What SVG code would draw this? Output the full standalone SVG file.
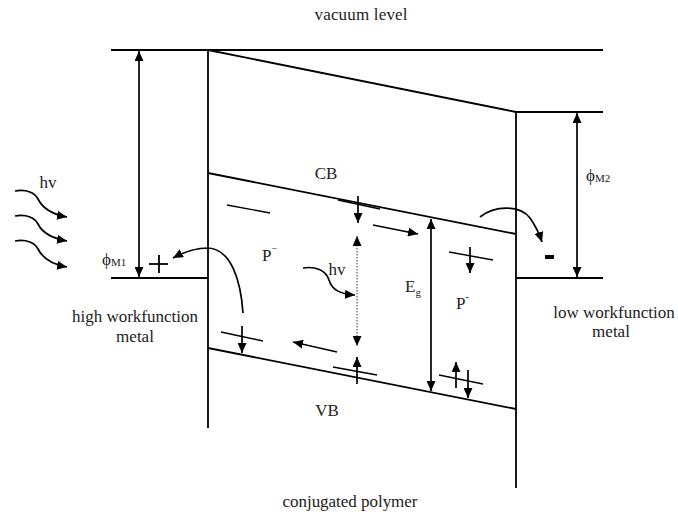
<svg xmlns="http://www.w3.org/2000/svg" width="678" height="519" viewBox="0 0 678 519">
<style>
.ln{stroke:#000;stroke-width:1.8;fill:none}
.th{stroke:#000;stroke-width:1.4;fill:none}
.ar{stroke:#000;stroke-width:1.7;fill:none;marker-end:url(#ah)}
.da{stroke:#000;stroke-width:1.7;fill:none;marker-start:url(#ah);marker-end:url(#ah)}
.dt{stroke:#666;stroke-width:1.3;fill:none;stroke-dasharray:1.5 1.5;marker-start:url(#ah);marker-end:url(#ah)}
.t{font-family:"Liberation Serif","Times New Roman",serif;font-size:17px;fill:#222}
.s{font-family:"Liberation Serif","Times New Roman",serif;font-size:11px;fill:#222}
</style>
<defs>
<marker id="ah" markerUnits="userSpaceOnUse" markerWidth="11" markerHeight="9" refX="10" refY="4.5" orient="auto-start-reverse" viewBox="0 0 11 9">
<path d="M0,0 L10,4.5 L0,9 z" fill="#000"/>
</marker>
</defs>
<rect width="678" height="519" fill="#fff"/>

<g id="labels">
<text class="t" x="361" y="20" text-anchor="middle" textLength="93" lengthAdjust="spacing">vacuum level</text>
<text class="t" x="350" y="507" text-anchor="middle" textLength="135" lengthAdjust="spacing">conjugated polymer</text>
<text class="t" x="135" y="322" text-anchor="middle">high workfunction</text>
<text class="t" x="135" y="342" text-anchor="middle">metal</text>
<text class="t" x="614" y="318" text-anchor="middle">low workfunction</text>
<text class="t" x="611" y="337" text-anchor="middle">metal</text>
<text class="t" x="326" y="179" text-anchor="middle">CB</text>
<text class="t" x="327" y="416" text-anchor="middle">VB</text>
</g>

<g id="band-structure">
<line class="ln" x1="111" y1="50" x2="603" y2="50"/>
<line class="ln" x1="208" y1="50" x2="208" y2="428"/>
<line class="ln" x1="516" y1="112" x2="516" y2="488"/>
<line class="ln" x1="208" y1="50" x2="516" y2="112"/>
<line class="ln" x1="516" y1="112" x2="603" y2="112"/>
<line class="ln" x1="111" y1="278" x2="208" y2="278"/>
<line class="ln" x1="516" y1="278" x2="603" y2="278"/>
<line class="ln" x1="208" y1="173" x2="516" y2="234"/>
<line class="ln" x1="208" y1="348" x2="516" y2="409"/>
</g>

<g id="work-functions">
<line class="da" x1="139" y1="51" x2="139" y2="277"/>
<line class="da" x1="577" y1="113" x2="577" y2="277"/>
<text class="t" x="102" y="265" font-size="15">ϕ<tspan class="s" dy="1">M1</tspan></text>
<text class="t" x="586" y="181" font-size="15">ϕ<tspan class="s" dy="1">M2</tspan></text>
</g>

<g id="photons-left">
<text class="t" x="48" y="188" text-anchor="middle">hv</text>
<path class="ar" d="M15,191 C27,189 35,193 38,199 C42,207 50,214 67,217"/>
<path class="ar" d="M15,216 C27,214 35,218 38,224 C42,232 50,238 67,241"/>
<path class="ar" d="M15,241 C27,239 35,243 38,249 C42,257 50,264 67,267"/>
</g>

<g id="charges">
<line class="ln" x1="149" y1="264" x2="168" y2="264" stroke-width="2"/>
<line class="ln" x1="159" y1="255" x2="159" y2="273" stroke-width="2"/>
<rect x="545" y="255" width="9" height="4" fill="#000"/>
<path class="ar" d="M243,313 C241,283 232,249 208,248 C196,248 184,252 173,258"/>
<path class="ar" d="M480,217 C495,205 520,205 530,218 C535,225 539,233 542,242"/>
</g>

<g id="polarons">
<text class="t" x="262" y="261" font-size="16">P<tspan font-size="10" dy="-9">−</tspan></text>
<text class="t" x="456" y="309" font-size="16">P<tspan font-size="10" dy="-9">-</tspan></text>
<line class="th" x1="227" y1="205" x2="270" y2="213"/>
<line class="th" x1="338" y1="200" x2="380" y2="209"/>
<line class="ar" x1="358" y1="196" x2="358" y2="223"/>
<line class="ar" x1="373" y1="225" x2="418" y2="234"/>
<line class="th" x1="221" y1="332" x2="263" y2="341"/>
<line class="ar" x1="242" y1="326" x2="242" y2="353"/>
<line class="ar" x1="337" y1="352" x2="293" y2="342"/>
<line class="th" x1="333" y1="367" x2="377" y2="375"/>
<line class="ar" x1="357" y1="384" x2="357" y2="357"/>
<line class="th" x1="449" y1="252" x2="493" y2="260"/>
<line class="ar" x1="470" y1="247" x2="470" y2="273"/>
<line class="th" x1="439" y1="375" x2="483" y2="384"/>
<line class="ar" x1="456" y1="388" x2="456" y2="362"/>
<line class="ar" x1="468" y1="370" x2="468" y2="398"/>
</g>

<g id="excitation">
<line class="dt" x1="357" y1="236" x2="357" y2="346"/>
<text class="t" x="337" y="275" text-anchor="middle">hv</text>
<path class="ar" d="M303,268 C315,266 326,270 329,280 C332,290 340,294 355,295"/>
<line class="da" x1="431" y1="219" x2="431" y2="391"/>
<text class="t" x="405" y="292" font-size="16">E<tspan font-size="11" dy="4">g</tspan></text>
</g>
</svg>
